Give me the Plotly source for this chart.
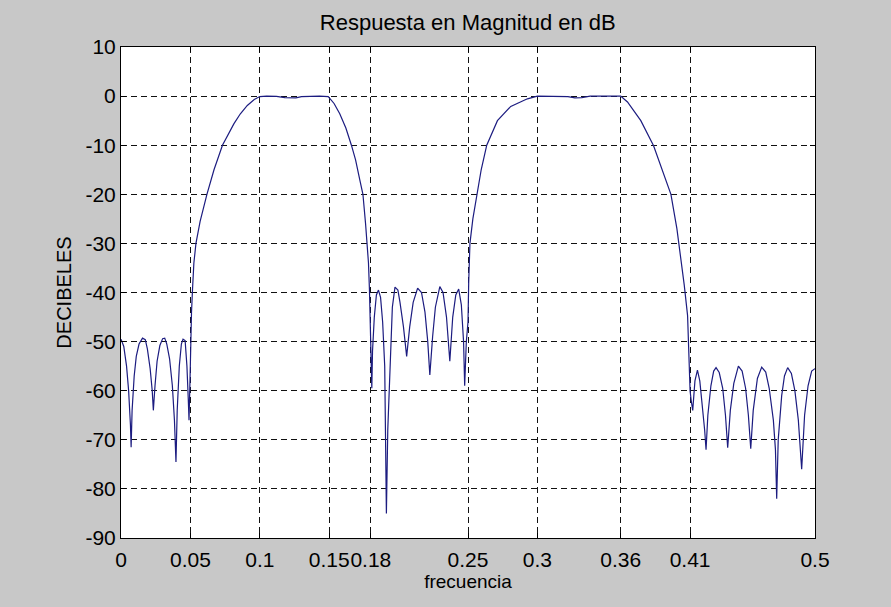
import plotly.graph_objects as go

# Magnitude response of the dual band-pass filter (normalised frequency, dB)
freq = [
    0.000, 0.002, 0.004, 0.0055, 0.0068, 0.0073, 0.0080, 0.0095, 0.011, 0.013,
    0.0155, 0.0175, 0.019, 0.021, 0.0225, 0.0233, 0.0245, 0.026, 0.028, 0.030,
    0.0315, 0.033, 0.035, 0.037, 0.0385, 0.0396, 0.0405, 0.042, 0.0435, 0.0447,
    0.0462, 0.0475, 0.0485, 0.049, 0.0497, 0.0503, 0.0508, 0.0515, 0.0525, 0.054,
    0.057, 0.0619, 0.067, 0.0731, 0.0814, 0.086, 0.091, 0.096, 0.100, 0.105,
    0.112, 0.118, 0.122, 0.126, 0.130, 0.137, 0.143, 0.1493, 0.1535, 0.1576,
    0.162, 0.166, 0.169, 0.172, 0.1743, 0.1762, 0.1774, 0.1783, 0.179, 0.1797,
    0.1802, 0.1807, 0.1812, 0.1825, 0.184, 0.1855, 0.187, 0.1885, 0.190, 0.1905,
    0.1912, 0.1922, 0.194, 0.1955, 0.1974, 0.1995, 0.201, 0.2035, 0.2058, 0.208,
    0.2105, 0.2137, 0.2165, 0.219, 0.221, 0.2225, 0.2245, 0.2265, 0.2297, 0.232,
    0.2345, 0.2369, 0.239, 0.2412, 0.2433, 0.2452, 0.2468, 0.2476, 0.2488, 0.2500,
    0.2505, 0.2514, 0.2535, 0.2563, 0.2595, 0.2635, 0.2712, 0.2808, 0.2928, 0.300,
    0.310, 0.322, 0.327, 0.332, 0.338, 0.350, 0.360, 0.3649, 0.3745, 0.3837,
    0.3913, 0.3962, 0.4005, 0.4034, 0.4058, 0.4082, 0.4094, 0.410, 0.4108, 0.4119,
    0.4135, 0.4153, 0.417, 0.419, 0.4205, 0.4215, 0.4228, 0.425, 0.427, 0.4287,
    0.431, 0.4335, 0.4355, 0.4371, 0.439, 0.4415, 0.4448, 0.4475, 0.450, 0.452,
    0.4537, 0.4555, 0.4585, 0.4616, 0.4645, 0.467, 0.470, 0.4715, 0.4724, 0.4735,
    0.476, 0.478, 0.4803, 0.483, 0.4855, 0.488, 0.4904, 0.4925, 0.495, 0.4976,
    0.500,
]
mag_db = [
    -49.5, -51.0, -55.0, -60.0, -67.0, -71.5, -64.0, -57.0, -53.0, -50.5,
    -49.3, -49.6, -51.5, -55.5, -60.0, -64.0, -59.0, -54.0, -50.8, -49.4,
    -49.3, -50.5, -53.5, -59.0, -66.0, -74.5, -64.0, -55.0, -50.5, -49.5,
    -49.8, -55.0, -62.0, -66.0, -58.0, -49.0, -44.0, -39.5, -34.0, -30.0,
    -25.5, -20.0, -15.0, -10.0, -5.6, -3.6, -1.9, -0.7, -0.1, 0.0,
    -0.05, -0.3, -0.4, -0.35, -0.1, 0.0, 0.0, -0.1, -1.5, -3.6,
    -6.5, -10.0, -13.0, -17.0, -20.0, -26.0, -30.0, -34.0, -39.5, -46.0,
    -52.0, -59.5, -52.0, -45.0, -40.5, -39.5, -41.0, -46.0, -55.0, -68.0,
    -85.0, -68.0, -52.0, -43.0, -38.9, -39.5, -42.0, -47.0, -53.0, -47.0,
    -42.0, -39.1, -40.0, -44.0, -50.0, -56.8, -49.0, -43.0, -38.8, -40.0,
    -45.0, -54.0, -45.0, -40.5, -39.3, -42.5, -50.0, -59.0, -50.0, -46.0,
    -38.0, -30.0, -25.0, -20.0, -15.0, -10.0, -5.0, -2.1, -0.55, 0.0,
    0.0, -0.1, -0.35, -0.3, 0.0, 0.0, 0.0, -1.2, -5.0, -10.1,
    -16.0, -20.0, -27.0, -33.0, -38.5, -44.7, -54.0, -60.0, -62.0, -64.0,
    -58.0, -55.8, -58.0, -63.0, -68.0, -72.0, -65.0, -59.0, -56.0, -55.3,
    -56.3, -59.5, -65.0, -71.6, -64.0, -58.5, -55.0, -56.0, -59.5, -65.0,
    -71.8, -64.0, -57.5, -55.2, -56.2, -59.5, -66.0, -72.0, -82.0, -70.0,
    -61.0, -57.0, -55.3, -56.5, -60.0, -66.0, -76.0, -65.0, -59.0, -56.0,
    -55.5,
]

x_ticks = [0, 0.05, 0.1, 0.15, 0.18, 0.25, 0.3, 0.36, 0.41, 0.5]
x_tick_text = ["0", "0.05", "0.1", "0.15", "0.18", "0.25", "0.3", "0.36", "0.41", "0.5"]
y_ticks = [-90, -80, -70, -60, -50, -40, -30, -20, -10, 0, 10]
y_tick_text = [str(v) for v in y_ticks]

FONT = "Liberation Sans, Arial, sans-serif"

fig = go.Figure()
fig.add_trace(go.Scatter(
    x=freq, y=mag_db, mode="lines",
    line=dict(color="#1c1c80", width=1.2),
    hoverinfo="x+y", showlegend=False,
))

axis_common = dict(
    showline=True, linecolor="black", linewidth=1, mirror="allticks",
    ticks="inside", ticklen=5, tickcolor="black", automargin=False,
    showgrid=True, gridcolor="#111111", gridwidth=1, griddash="6px,4px",
    zeroline=False, tickfont=dict(family=FONT, size=21, color="black"),
)

fig.update_layout(
    width=891, height=607,
    margin=dict(l=121, r=76, t=47, b=69),
    paper_bgcolor="#c8c8c8", plot_bgcolor="white",
    font=dict(family=FONT, color="black"),
    title=dict(text="Respuesta en Magnitud en dB", x=0.525, xanchor="center",
               y=1 - 22 / 607, yanchor="middle", yref="container",
               font=dict(family=FONT, size=22, color="black")),
    xaxis=dict(range=[0, 0.5], tickmode="array", tickvals=x_ticks,
               ticktext=x_tick_text, tickangle=0, ticklabelstandoff=3,
               title=dict(text="frecuencia", standoff=3,
                          font=dict(family=FONT, size=19, color="black")),
               **axis_common),
    yaxis=dict(range=[-90, 10], tickmode="array", tickvals=y_ticks,
               ticktext=y_tick_text,
               title=dict(text="DECIBELES", standoff=8,
                          font=dict(family=FONT, size=20, color="black")),
               **axis_common),
)

fig.write_html("out.html")
